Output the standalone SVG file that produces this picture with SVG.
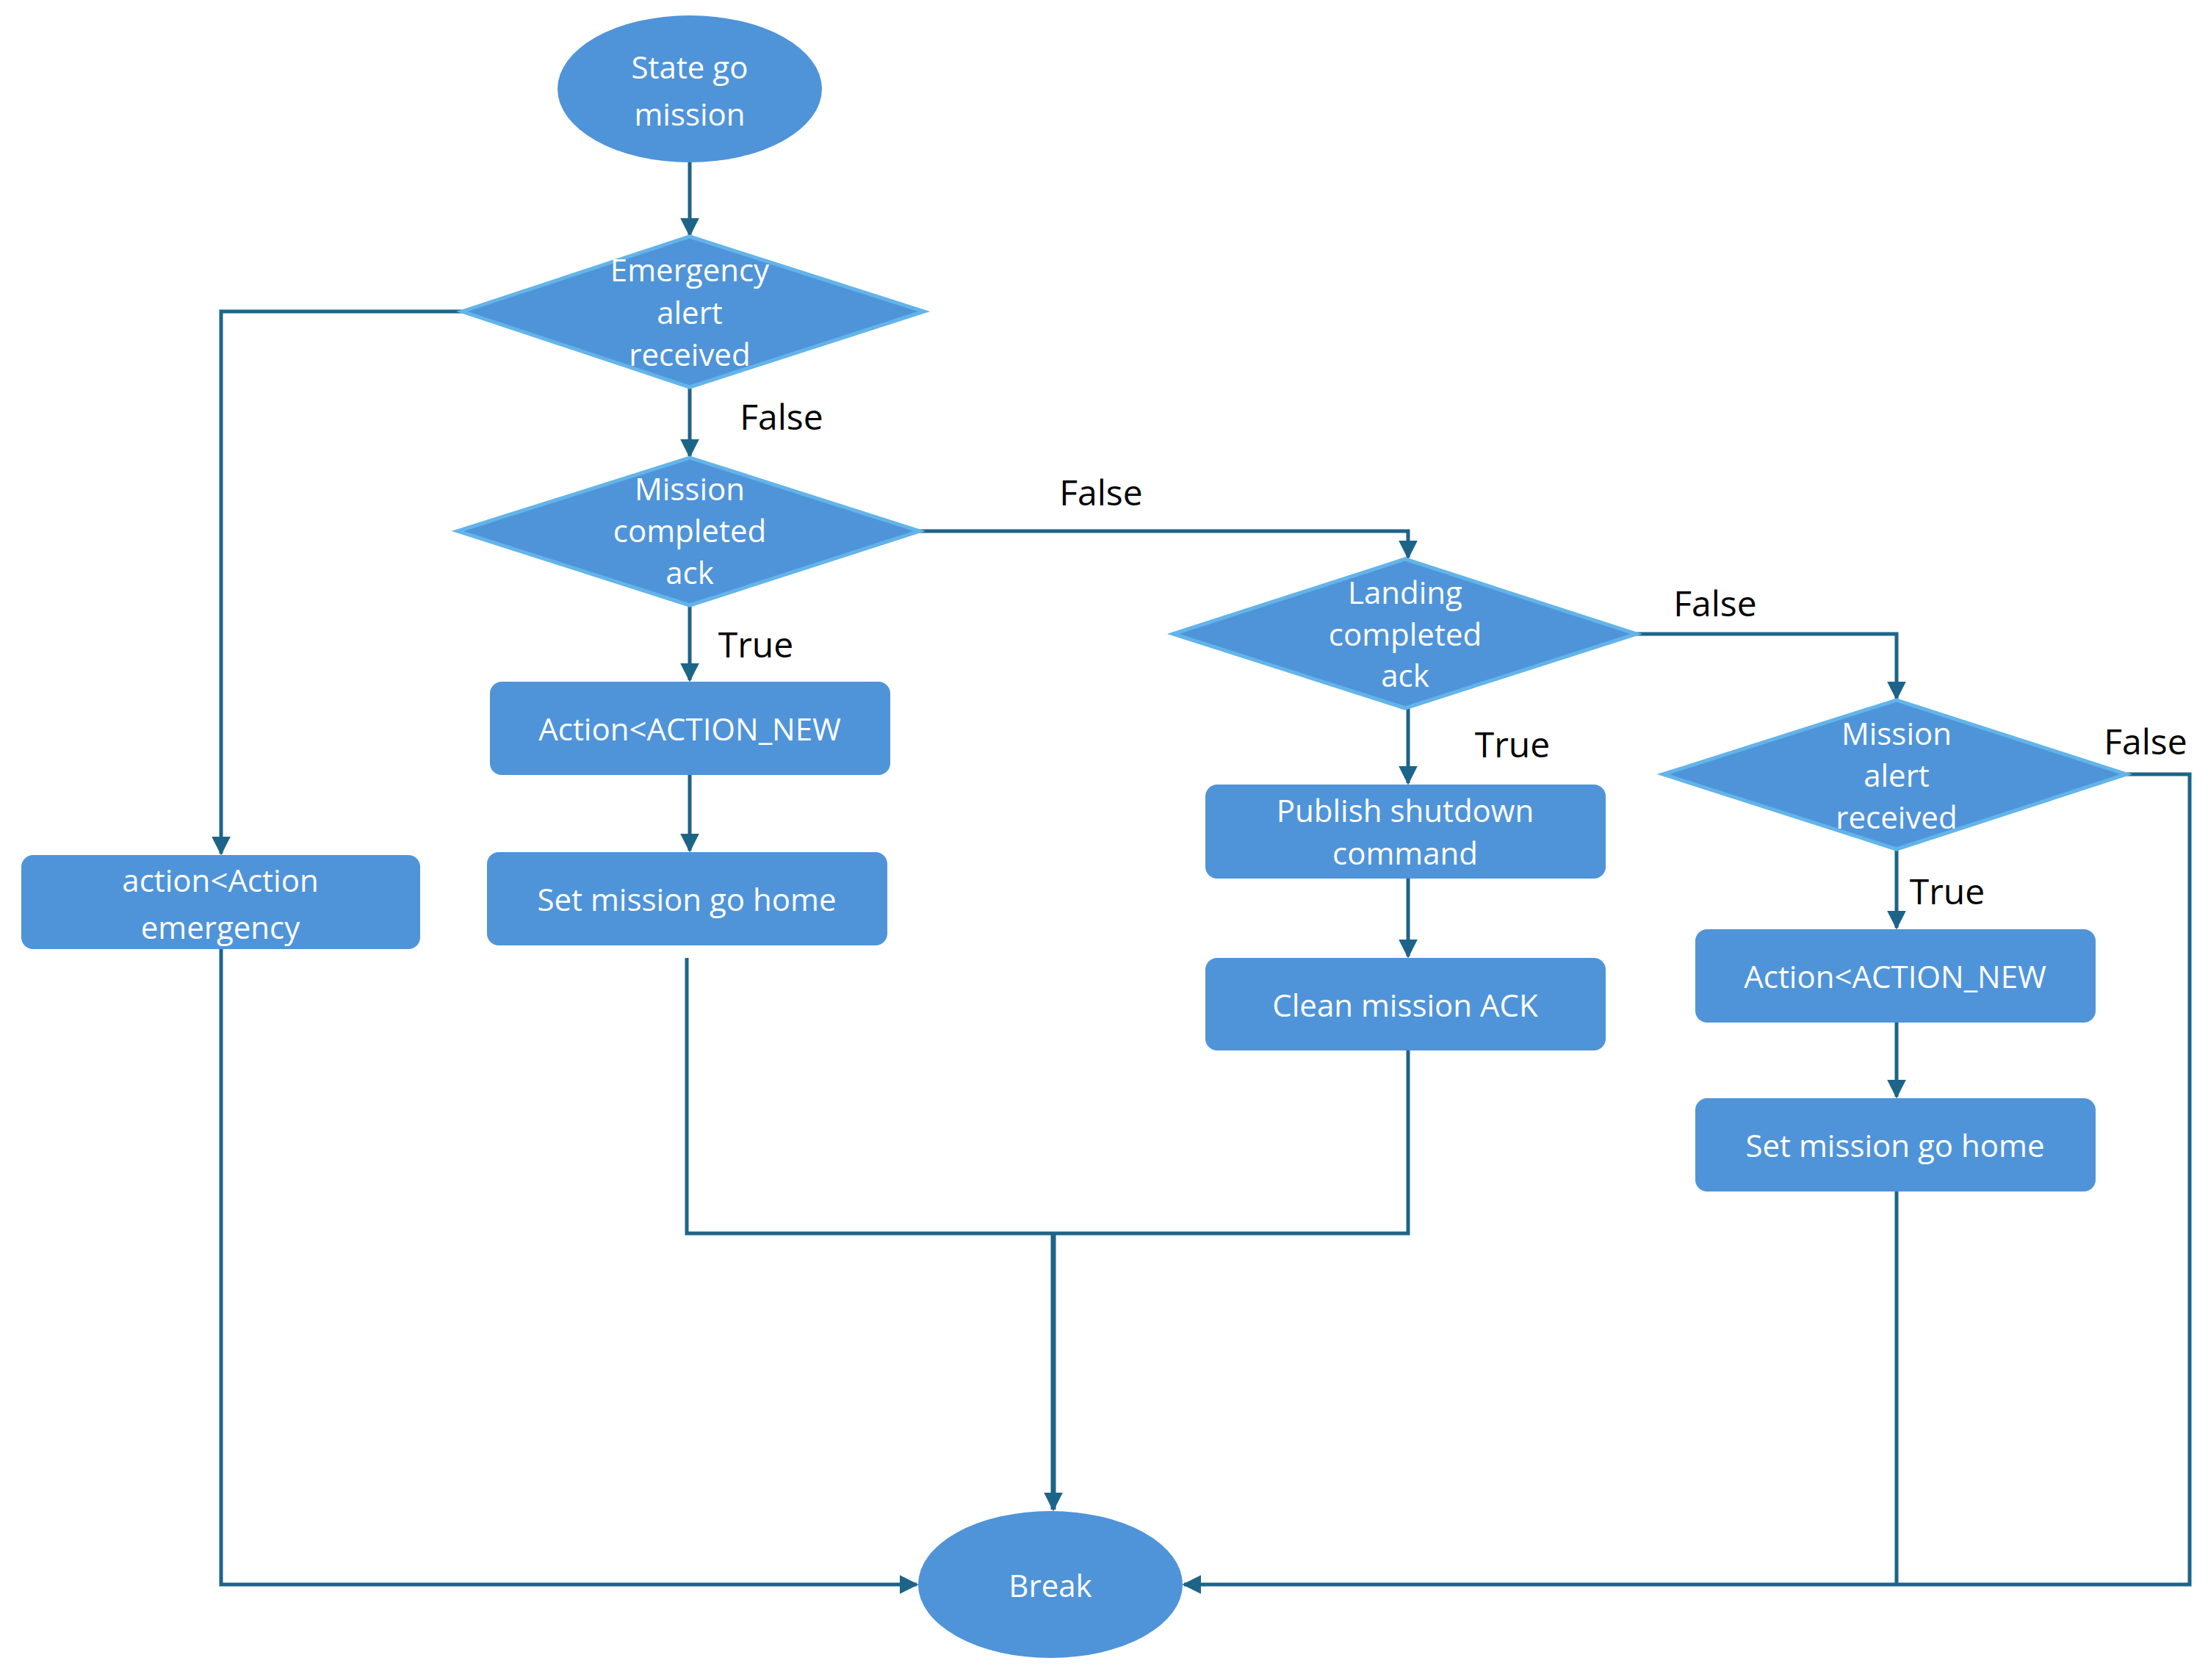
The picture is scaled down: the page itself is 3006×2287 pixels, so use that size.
<svg xmlns="http://www.w3.org/2000/svg" width="3006" height="2287" viewBox="0 0 3006 2287">
<defs>
<marker id="ah" markerWidth="8" markerHeight="8" refX="7" refY="4" orient="auto" markerUnits="userSpaceOnUse" viewBox="0 0 8 8">
<path d="M0,0 L8,4 L0,8 z" fill="#1d6489"/>
</marker>
<marker id="a" viewBox="0 0 10 10" refX="9" refY="5" markerWidth="26" markerHeight="26" markerUnits="userSpaceOnUse" orient="auto"><path d="M0,0 L10,5 L0,10 z" fill="#1d6489"/></marker>
</defs>
<style>
.n{fill:#4f94d9}
.d{fill:#4f94d9;stroke:#62b4ea;stroke-width:5}
.t{font-family:"Open Sans","Liberation Sans",sans-serif;font-size:42px;fill:#fff;text-anchor:middle;dominant-baseline:central}
.l{font-family:"Open Sans","Liberation Sans",sans-serif;font-size:48px;fill:#000;text-anchor:middle;dominant-baseline:central}
.c{fill:none;stroke:#1d6489;stroke-width:5}
</style>
<rect width="3006" height="2287" fill="#fff"/>
<g id="connectors">
<path class="c" d="M939,221 V320" marker-end="url(#a)"/>
<path class="c" d="M629,424 H301 V1162" marker-end="url(#a)"/>
<path class="c" d="M939,527 V621" marker-end="url(#a)"/>
<path class="c" d="M1252,723 H1917 V759" marker-end="url(#a)"/>
<path class="c" d="M939,824 V926" marker-end="url(#a)"/>
<path class="c" d="M939,1055 V1158" marker-end="url(#a)"/>
<path class="c" d="M935,1304 V1679 H1917 V1430"/>
<path class="c" d="M1434,1679 V2055" marker-end="url(#a)" style="stroke-width:7"/>
<path class="c" d="M2228,863 H2582 V951" marker-end="url(#a)"/>
<path class="c" d="M1917,964 V1066" marker-end="url(#a)"/>
<path class="c" d="M1917,1196 V1302" marker-end="url(#a)"/>
<path class="c" d="M2582,1156 V1263" marker-end="url(#a)"/>
<path class="c" d="M2582,1392 V1493" marker-end="url(#a)"/>
<path class="c" d="M2582,1622 V2157"/>
<path class="c" d="M2895,1054 H2981 V2157 H1612" marker-end="url(#a)"/>
<path class="c" d="M301,1292 V2157 H1248" marker-end="url(#a)"/>
</g>
<g id="labels">
<text class="l" x="1064" y="566">False</text>
<text class="l" x="1499" y="669">False</text>
<text class="l" x="1029" y="876">True</text>
<text class="l" x="2335" y="820">False</text>
<text class="l" x="2059" y="1012">True</text>
<text class="l" x="2651" y="1212">True</text>
<text class="l" x="2921" y="1008">False</text>
</g>
<g id="start"><ellipse class="n" cx="939" cy="121" rx="180" ry="100"/><text class="t" x="939" y="90">State go</text><text class="t" x="939" y="154">mission</text></g>
<g id="d1"><polygon class="d" points="629,424 939,322 1258,424 939,527"/><text class="t" x="939" y="366">Emergency</text><text class="t" x="939" y="424">alert</text><text class="t" x="939" y="481">received</text></g>
<g id="d2"><polygon class="d" points="623,723 939,623 1252,723 939,824"/><text class="t" x="939" y="664">Mission</text><text class="t" x="939" y="721">completed</text><text class="t" x="939" y="778">ack</text></g>
<g id="action1"><rect class="n" x="667" y="928" width="545" height="127" rx="16"/><text class="t" x="939" y="991">Action&lt;ACTION_NEW</text></g>
<g id="home1"><rect class="n" x="663" y="1160" width="545" height="127" rx="16"/><text class="t" x="935" y="1223">Set mission go home</text></g>
<g id="emergency"><rect class="n" x="29" y="1164" width="543" height="128" rx="16"/><text class="t" x="300" y="1197">action&lt;Action</text><text class="t" x="300" y="1261">emergency</text></g>
<g id="d3"><polygon class="d" points="1597,863 1913,761 2228,863 1913,964"/><text class="t" x="1913" y="805">Landing</text><text class="t" x="1913" y="862">completed</text><text class="t" x="1913" y="918">ack</text></g>
<g id="publish"><rect class="n" x="1641" y="1068" width="545" height="128" rx="16"/><text class="t" x="1913" y="1102">Publish shutdown</text><text class="t" x="1913" y="1160">command</text></g>
<g id="clean"><rect class="n" x="1641" y="1304" width="545" height="126" rx="16"/><text class="t" x="1913" y="1367">Clean mission ACK</text></g>
<g id="d4"><polygon class="d" points="2264,1054 2582,953 2895,1054 2582,1156"/><text class="t" x="2582" y="997">Mission</text><text class="t" x="2582" y="1054">alert</text><text class="t" x="2582" y="1111">received</text></g>
<g id="action2"><rect class="n" x="2308" y="1265" width="545" height="127" rx="16"/><text class="t" x="2580" y="1328">Action&lt;ACTION_NEW</text></g>
<g id="home2"><rect class="n" x="2308" y="1495" width="545" height="127" rx="16"/><text class="t" x="2580" y="1558">Set mission go home</text></g>
<g id="break"><ellipse class="n" cx="1430" cy="2157" rx="180" ry="100"/><text class="t" x="1430" y="2157">Break</text></g>
</svg>
